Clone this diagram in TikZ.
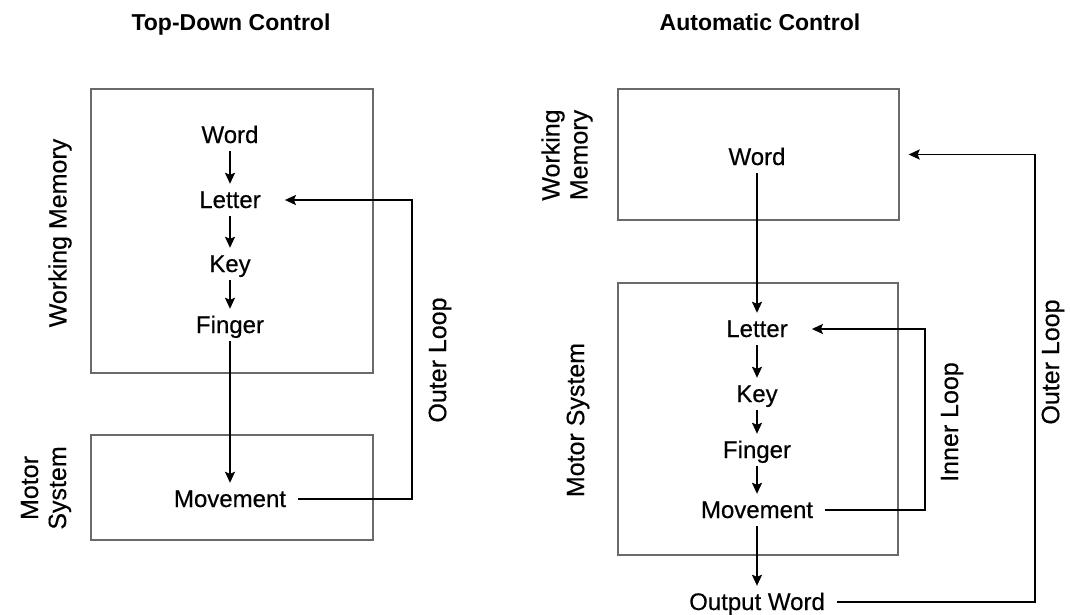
\documentclass[tikz,border=0pt]{standalone}
\usepackage{fontspec}
\setmainfont{Liberation Sans}
\newfontfamily\labelfont{Liberation Sans}[FakeBold=0.4]
\usetikzlibrary{arrows.meta,positioning}
\definecolor{cframe}{HTML}{6A6A6A}
\tikzset{
  panel/.style={draw=cframe, line width=1.3pt, inner sep=0pt},
  lbl/.style={font=\labelfont\fontsize{24}{28}\selectfont, inner sep=0pt, text height=18pt, text depth=2pt, anchor=base},
  side/.style={font=\labelfont\fontsize{25}{28}\selectfont, rotate=90, align=center, inner sep=0pt},
  ttl/.style={font=\fontsize{23}{28}\selectfont\bfseries, anchor=base},
  tip/.style={-{Stealth[length=11pt,width=10pt,inset=2pt]}},
  pre/.style={tip, line width=1.8pt, shorten <=6pt, shorten >=6pt},
  fb/.style={tip, line width=1.9pt, shorten <=12pt, shorten >=24pt},
}
\begin{document}
\begin{tikzpicture}[x=1pt,y=-1pt]
\useasboundingbox (0,0) rectangle (1070,614);
% ---------------- top-down
\node[ttl] (tA) at (231,30) {Top-Down Control};
\node[panel, minimum width=282pt, minimum height=284pt] (wmL) at (232,231) {};
\node[panel, minimum width=282pt, minimum height=105pt] (msL) at (232,487.5) {};
\node[side] (swmL) at (60,233) {Working Memory};
\node[side] (smsL) at (46,488) {Motor\\System};
\foreach \n/\t/\y in {wordL/Word/143, letL/Letter/208, keyL/Key/272, finL/Finger/333, movL/Movement/507} {
  \node[lbl] (\n) at (230,\y) {\t};
}
\draw[pre] (wordL) -- (letL);
\draw[pre] (letL) -- (keyL);
\draw[pre] (keyL) -- (finL);
\draw[pre] (finL) -- (movL);
\coordinate (loopL) at (412,350);
\draw[fb] (movL.east) -| (loopL) |- (letL.east);
\node[side] (oL) at (440,360) {Outer Loop};
% ---------------- automatic
\node[ttl] (tB) at (760,30) {Automatic Control};
\node[panel, minimum width=281pt, minimum height=131pt] (wmR) at (758.5,154.5) {};
\node[panel, minimum width=280pt, minimum height=272pt] (msR) at (758,419) {};
\node[side] (swmR) at (567,155) {Working\\Memory};
\node[side] (smsR) at (578,420) {Motor System};
\foreach \n/\t/\y in {wordR/Word/165, letR/Letter/337, keyR/Key/402, finR/Finger/458, movR/Movement/518, outR/Output Word/610} {
  \node[lbl] (\n) at (757,\y) {\t};
}
\draw[pre] (wordR) -- (letR);
\draw[pre] (letR) -- (keyR);
\draw[pre] (keyR) -- (finR);
\draw[pre] (finR) -- (movR);
\draw[pre] (movR) -- (outR);
\coordinate (loopI) at (925,420);
\coordinate (loopO) at (1035,400);
\draw[fb] (movR.east) -| (loopI) |- (letR.east);
\draw[fb, shorten >=9pt] (outR.east) -| (loopO) |- (wmR.east);
\node[side] (iR) at (952,422) {Inner Loop};
\node[side] (oR) at (1053,362) {Outer Loop};
\end{tikzpicture}
\end{document}
